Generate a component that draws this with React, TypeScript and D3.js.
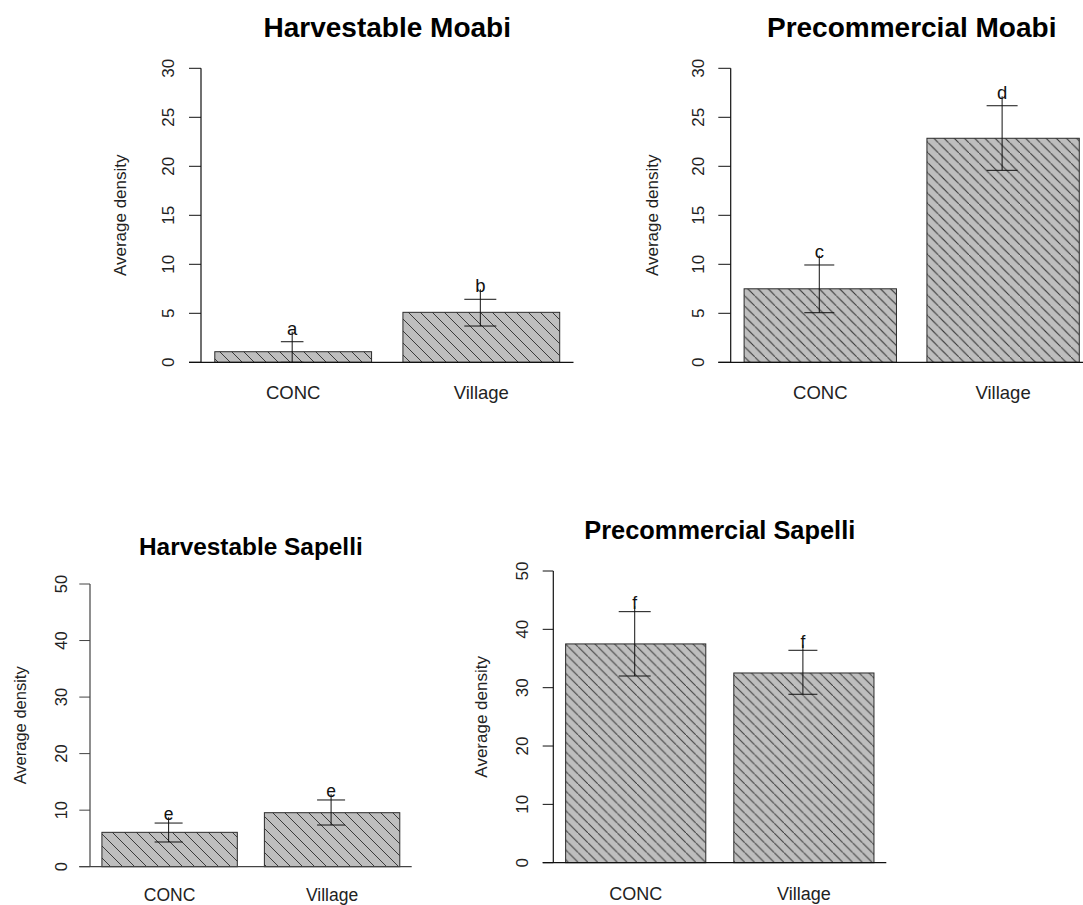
import React from "react";
import * as d3 from "d3";

// ---------- data ----------
const categories = ["CONC", "Village"];

const harvMoabiMean = [1.08, 5.1];
const harvMoabiUpper = [2.1, 6.43];
const harvMoabiLower = [0, 3.7];
const harvMoabiLetters = ["a", "b"];

const precMoabiMean = [7.5, 22.86];
const precMoabiUpper = [9.93, 26.18];
const precMoabiLower = [5.06, 19.59];
const precMoabiLetters = ["c", "d"];

const harvSapelliMean = [6.08, 9.55];
const harvSapelliUpper = [7.72, 11.8];
const harvSapelliLower = [4.37, 7.37];
const harvSapelliLetters = ["e", "e"];

const precSapelliMean = [37.5, 32.52];
const precSapelliUpper = [43.03, 36.41];
const precSapelliLower = [32.0, 28.87];
const precSapelliLetters = ["f", "f"];

const moabiTicks = [0, 5, 10, 15, 20, 25, 30];
const sapelliTicks = [0, 10, 20, 30, 40, 50];

const titles = [
  "Harvestable Moabi",
  "Precommercial Moabi",
  "Harvestable Sapelli",
  "Precommercial Sapelli",
];
const yLabel = "Average density";

// ---------- layout (pixels / styles) ----------
const layouts = [
  { x0: 201, x1: 573.5, yb: 362.3, yt: 68.3, tickLen: 12, tickLabX: 174, ylabX: 125.5, titleY: 36.7, titleSize: 28, catY: 399.3, catSize: 18.5, axisSize: 17, letterSize: 18.5, letterOff: 7, hatch: 12, caps: [11.3, 16], axisColor: "#111", xEnd: 573.5 },
  { x0: 730.7, x1: 1092.7, yb: 362.3, yt: 68.3, tickLen: 12.4, tickLabX: 704, ylabX: 657.5, titleY: 36.7, titleSize: 28, catY: 399.3, catSize: 18.5, axisSize: 17, letterSize: 18.5, letterOff: 6.5, hatch: 10.2, caps: [15, 15.5], axisColor: "#111", xEnd: 1092.7 },
  { x0: 90, x1: 411.7, yb: 866.7, yt: 584, tickLen: 10.7, tickLabX: 66.5, ylabX: 25.5, titleY: 555, titleSize: 24.4, catY: 901, catSize: 17.5, axisSize: 16.5, letterSize: 17.5, letterOff: 2.7, hatch: 12, caps: [14, 14], axisColor: "#444", xEnd: 411.7 },
  { x0: 553.3, x1: 886.3, yb: 862.7, yt: 571, tickLen: 10.6, tickLabX: 528, ylabX: 487, titleY: 539.3, titleSize: 25.4, catY: 900, catSize: 18, axisSize: 17, letterSize: 17.5, letterOff: 2.5, hatch: 9.8, caps: [16, 14.5], axisColor: "#111", xEnd: 886.3 },
];

const panelsData = [
  { mean: harvMoabiMean, upper: harvMoabiUpper, lower: harvMoabiLower, letters: harvMoabiLetters, ticks: moabiTicks },
  { mean: precMoabiMean, upper: precMoabiUpper, lower: precMoabiLower, letters: precMoabiLetters, ticks: moabiTicks },
  { mean: harvSapelliMean, upper: harvSapelliUpper, lower: harvSapelliLower, letters: harvSapelliLetters, ticks: sapelliTicks },
  { mean: precSapelliMean, upper: precSapelliUpper, lower: precSapelliLower, letters: precSapelliLetters, ticks: sapelliTicks },
];

const FONT = "'Liberation Sans', Arial, Helvetica, sans-serif";
const BAR_FILL = "#bebebe";
const HATCH_COLOR = "#3a3a3a";

function Panel({ idx }: { idx: number }) {
  const L = layouts[idx];
  const D = panelsData[idx];
  const yMax = D.ticks[D.ticks.length - 1];
  const y = d3.scaleLinear().domain([0, yMax]).range([L.yb, L.yt]);
  const x = d3
    .scaleBand<string>()
    .domain(categories)
    .range([L.x0, L.x1])
    .paddingInner(1 / 6)
    .paddingOuter(0.088 / 1.2);
  const bw = x.bandwidth();
  const pid = `hatch${idx}`;
  const s = L.hatch;
  const yMid = (L.yb + L.yt) / 2;
  const cx = (L.x0 + L.x1) / 2;

  return (
    <g>
      <defs>
        <pattern id={pid} patternUnits="userSpaceOnUse" width={s} height={s}>
          <rect x={0} y={0} width={s} height={s} fill={BAR_FILL} />
          <path
            d={`M${-s / 2},${-s / 2} L${s / 2},${s / 2} M0,0 L${s},${s} M${s / 2},${s / 2} L${s * 1.5},${s * 1.5}`}
            stroke={HATCH_COLOR}
            strokeWidth={1}
          />
        </pattern>
      </defs>
      <text x={cx} y={L.titleY} textAnchor="middle" fontFamily={FONT} fontWeight="bold" fontSize={L.titleSize} fill="#000">
        {titles[idx]}
      </text>
      {categories.map((c, i) => (
        <rect
          key={c}
          x={x(c)!}
          y={y(D.mean[i])}
          width={bw}
          height={y(0) - y(D.mean[i])}
          fill={`url(#${pid})`}
          stroke="#2a2a2a"
          strokeWidth={1}
        />
      ))}
      <line x1={L.x0 - L.tickLen} x2={L.xEnd} y1={y(0)} y2={y(0)} stroke={L.axisColor} strokeWidth={1.2} />
      <line x1={L.x0} x2={L.x0} y1={y(0)} y2={y(yMax)} stroke={L.axisColor} strokeWidth={1.2} />
      {D.ticks.map((t) => (
        <g key={t}>
          <line x1={L.x0 - L.tickLen} x2={L.x0} y1={y(t)} y2={y(t)} stroke={L.axisColor} strokeWidth={1} />
          <text
            transform={`translate(${L.tickLabX},${y(t)}) rotate(-90)`}
            textAnchor="middle"
            fontFamily={FONT}
            fontSize={L.axisSize}
            fill="#222"
          >
            {t}
          </text>
        </g>
      ))}
      <text
        transform={`translate(${L.ylabX},${yMid}) rotate(-90)`}
        textAnchor="middle"
        fontFamily={FONT}
        fontSize={L.axisSize}
        fill="#222"
      >
        {yLabel}
      </text>
      {categories.map((c) => (
        <text key={c} x={x(c)! + bw / 2} y={L.catY} textAnchor="middle" fontFamily={FONT} fontSize={L.catSize} fill="#222">
          {c}
        </text>
      ))}
      {categories.map((c, i) => {
        const mx = x(c)! + bw / 2 - 1;
        const yu = y(D.upper[i]);
        const yl = y(D.lower[i]);
        const hw = L.caps[i];
        const base = yu - L.letterOff;
        return (
          <g key={c}>
            <line x1={mx} x2={mx} y1={yl} y2={base - 3} stroke="#111" strokeWidth={1} />
            <line x1={mx - hw} x2={mx + hw} y1={yu} y2={yu} stroke="#111" strokeWidth={1} />
            <line x1={mx - hw} x2={mx + hw} y1={yl} y2={yl} stroke="#111" strokeWidth={1} />
            <text x={mx} y={base} textAnchor="middle" fontFamily={FONT} fontSize={L.letterSize} fill="#111">
              {D.letters[i]}
            </text>
          </g>
        );
      })}
    </g>
  );
}

export default function App() {
  return (
    <svg
      width={1083}
      height={905}
      style={{ position: "absolute", left: 0, top: 0, background: "#fff" }}
    >
      <rect x={0} y={0} width={1083} height={905} fill="#fff" />
      {[0, 1, 2, 3].map((i) => (
        <Panel key={i} idx={i} />
      ))}
    </svg>
  );
}
